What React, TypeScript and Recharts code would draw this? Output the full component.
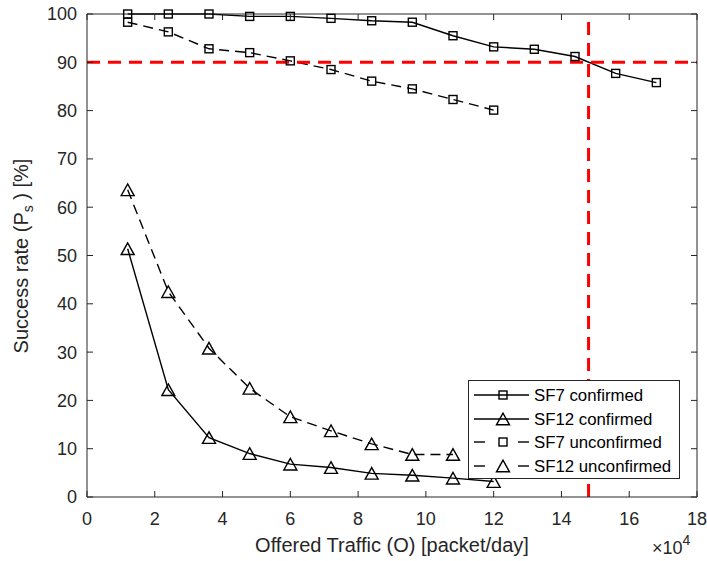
import React from 'react';
import { LineChart, Line, XAxis, YAxis, ReferenceLine } from 'recharts';

// Offered traffic (x 10^4 packet/day)
const trafficX = [1.2, 2.4, 3.6, 4.8, 6.0, 7.2, 8.4, 9.6, 10.8, 12.0, 13.2, 14.4, 15.6, 16.8];
const sf7Confirmed = [100, 100, 100, 99.5, 99.5, 99.1, 98.6, 98.3, 95.5, 93.2, 92.7, 91.2, 87.7, 85.8];
const sf12Confirmed = [51.4, 22.2, 12.3, 9.0, 6.8, 6.1, 4.9, 4.5, 3.9, 3.2];
const sf7Unconfirmed = [98.3, 96.3, 92.8, 92.0, 90.3, 88.5, 86.1, 84.5, 82.3, 80.1];
const sf12Unconfirmed = [63.6, 42.5, 30.8, 22.5, 16.6, 13.7, 11.0, 8.8, 8.8];
const xTicks = [0, 2, 4, 6, 8, 10, 12, 14, 16, 18];
const yTicks = [0, 10, 20, 30, 40, 50, 60, 70, 80, 90, 100];
const thresholdRate = 90;
const thresholdTraffic = 14.8;
const seriesNames = ['SF7 confirmed', 'SF12 confirmed', 'SF7 unconfirmed', 'SF12 unconfirmed'];
const xLabel = 'Offered Traffic (O) [packet/day]';

const data = trafficX.map((x, i) => ({
  x,
  sf7c: sf7Confirmed[i],
  sf12c: sf12Confirmed[i],
  sf7u: sf7Unconfirmed[i],
  sf12u: sf12Unconfirmed[i],
}));

const FONT = '"Liberation Sans", Arial, Helvetica, sans-serif';
const AXIS = '#262626';
const TICK = 6;
const DASH = '10 6';

const Square = (p: any) => {
  const { cx, cy, key } = p;
  if (cx == null || cy == null || p.value == null) return <g key={key} />;
  const s = 8;
  return <rect key={key} x={cx - s / 2} y={cy - s / 2} width={s} height={s} fill="none" stroke="#000" strokeWidth={1.4} />;
};

const Tri = (p: any) => {
  const { cx, cy, key } = p;
  if (cx == null || cy == null || p.value == null) return <g key={key} />;
  const w = 6.5, h = 5.8;
  return <polygon key={key} points={`${cx},${cy - h} ${cx - w},${cy + h} ${cx + w},${cy + h}`} fill="none" stroke="#000" strokeWidth={1.4} />;
};

const BottomTick = (p: any) => {
  const { x, y, payload } = p;
  return (
    <g>
      <line x1={x} x2={x} y1={y} y2={y - TICK} stroke={AXIS} strokeWidth={1} />
      <text x={x} y={y + 28} textAnchor="middle" fontSize={18} fill={AXIS} fontFamily={FONT}>{payload.value}</text>
    </g>
  );
};
const TopTick = (p: any) => {
  const { x, y } = p;
  return <line x1={x} x2={x} y1={y} y2={y + TICK} stroke={AXIS} strokeWidth={1} />;
};
const LeftTick = (p: any) => {
  const { x, y, payload } = p;
  return (
    <g>
      <line x1={x} x2={x + TICK} y1={y} y2={y} stroke={AXIS} strokeWidth={1} />
      <text x={x - 10} y={y} dy="0.36em" textAnchor="end" fontSize={18} fill={AXIS} fontFamily={FONT}>{payload.value}</text>
    </g>
  );
};
const RightTick = (p: any) => {
  const { x, y } = p;
  return <line x1={x} x2={x - TICK} y1={y} y2={y} stroke={AXIS} strokeWidth={1} />;
};

const LegendRow = ({ y, marker, dashed, label }: any) => (
  <g>
    {dashed ? (
      <>
        <line x1={6} x2={17} y1={y} y2={y} stroke="#000" strokeWidth={1.4} />
        <line x1={50} x2={61} y1={y} y2={y} stroke="#000" strokeWidth={1.4} />
      </>
    ) : (
      <line x1={6} x2={61} y1={y} y2={y} stroke="#000" strokeWidth={1.4} />
    )}
    {marker === 'square' ? <Square cx={35} cy={y} value={1} /> : <Tri cx={35} cy={y} value={1} />}
    <text x={66} y={y} dy="0.36em" fontSize={16.8} fill="#000" fontFamily={FONT}>{label}</text>
  </g>
);

export default function App() {
  return (
    <div style={{ position: 'absolute', left: 0, top: 0, width: 707, height: 561, background: '#fff' }}>
      <LineChart width={707} height={561} data={data} margin={{ top: 13, right: 9, bottom: 0, left: 0 }}>
        <XAxis dataKey="x" type="number" domain={[0, 18]} ticks={xTicks} interval={0} height={64}
          axisLine={{ stroke: AXIS, strokeWidth: 1 }} tickLine={false} tickSize={0} tickMargin={0} tick={<BottomTick />} />
        <XAxis xAxisId="top" orientation="top" dataKey="x" type="number" domain={[0, 18]} ticks={xTicks} interval={0} height={1}
          axisLine={{ stroke: AXIS, strokeWidth: 1 }} tickLine={false} tickSize={0} tickMargin={0} tick={<TopTick />} />
        <YAxis type="number" domain={[0, 100]} ticks={yTicks} interval={0} width={87}
          axisLine={{ stroke: AXIS, strokeWidth: 1 }} tickLine={false} tickSize={0} tickMargin={0} tick={<LeftTick />} />
        <YAxis yAxisId="right" orientation="right" type="number" domain={[0, 100]} ticks={yTicks} interval={0} width={1}
          axisLine={{ stroke: AXIS, strokeWidth: 1 }} tickLine={false} tickSize={0} tickMargin={0} tick={<RightTick />} />
        <Line xAxisId="top" yAxisId="right" dataKey="sf7c" stroke="none" strokeWidth={0} dot={false} activeDot={false} legendType="none" isAnimationActive={false} />
        <Line dataKey="sf7c" stroke="#000" strokeWidth={1.4} dot={Square} activeDot={false} isAnimationActive={false} />
        <Line dataKey="sf12c" stroke="#000" strokeWidth={1.4} dot={Tri} activeDot={false} isAnimationActive={false} />
        <Line dataKey="sf7u" stroke="#000" strokeWidth={1.4} strokeDasharray={DASH} dot={Square} activeDot={false} isAnimationActive={false} />
        <Line dataKey="sf12u" stroke="#000" strokeWidth={1.4} strokeDasharray={DASH} dot={Tri} activeDot={false} isAnimationActive={false} />
        <ReferenceLine y={thresholdRate} stroke="#ff0000" strokeWidth={3} strokeDasharray="13 8" />
        <ReferenceLine x={thresholdTraffic} stroke="#ff0000" strokeWidth={3} strokeDasharray="13 8" />
      </LineChart>
      <svg width={707} height={561} style={{ position: 'absolute', left: 0, top: 0, pointerEvents: 'none' }}>
        <text x={392} y={552} textAnchor="middle" fontSize={20} fill={AXIS} fontFamily={FONT}>{xLabel}</text>
        <text transform="translate(28,256) rotate(-90)" textAnchor="middle" fontSize={20} fill={AXIS} fontFamily={FONT}>
          Success rate (P<tspan fontSize={14} dy={5}>s</tspan><tspan dy={-5}> ) [%]</tspan>
        </text>
        <text x={652} y={554} fontSize={18} fill={AXIS} fontFamily={FONT}>
          ×10<tspan fontSize={14} dy={-9}>4</tspan>
        </text>
      </svg>
      <svg width={212} height={99} style={{ position: 'absolute', left: 468, top: 380 }}>
        <rect x={0.5} y={0.5} width={211} height={98} fill="#fff" stroke={AXIS} strokeWidth={1} />
        <LegendRow y={15} marker="square" dashed={false} label={seriesNames[0]} />
        <LegendRow y={39} marker="tri" dashed={false} label={seriesNames[1]} />
        <LegendRow y={62} marker="square" dashed={true} label={seriesNames[2]} />
        <LegendRow y={86} marker="tri" dashed={true} label={seriesNames[3]} />
      </svg>
    </div>
  );
}
